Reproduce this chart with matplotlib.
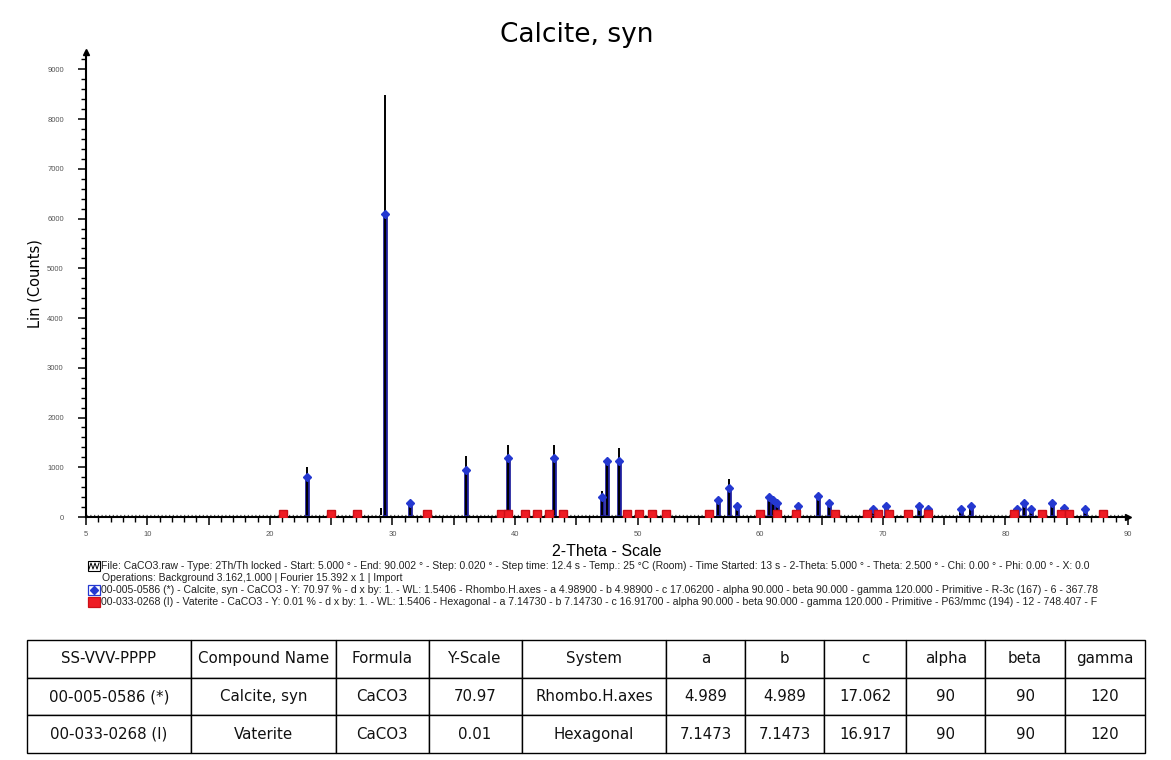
import matplotlib
matplotlib.use("Agg")
import matplotlib.pyplot as plt
from matplotlib import font_manager
from matplotlib.patches import Rectangle
from matplotlib.lines import Line2D
from matplotlib.ticker import MultipleLocator, FuncFormatter

# measured scan: peak positions (2theta) and heights (counts)
scan_range = [5.0, 90.0]
background = 40
meas_2th = [23.06, 29.10, 29.40, 31.44, 35.97, 39.42, 43.16, 47.12, 47.50, 48.50,
            56.58, 57.42, 58.10, 60.70, 61.02, 61.40, 63.06, 64.68, 65.60, 69.20,
            70.24, 72.94, 73.70, 76.32, 77.14, 80.95, 81.55, 82.12, 83.80, 84.80, 86.50]
meas_cts = [1010, 180, 8480, 280, 1230, 1440, 1440, 520, 1150, 1390,
            320, 760, 200, 400, 330, 280, 210, 430, 240, 140,
            200, 200, 150, 150, 190, 130, 260, 150, 250, 170, 130]

# calcite reference sticks
calcite_2th = [23.06, 29.41, 31.44, 35.97, 39.42, 43.16, 47.12, 47.50, 48.51,
               56.58, 57.42, 58.10, 60.70, 61.04, 61.40, 63.06, 64.68, 65.62,
               69.20, 70.26, 72.94, 73.72, 76.34, 77.18, 80.96, 81.52, 82.10,
               83.78, 84.80, 86.48]
calcite_cts = [805, 6100, 290, 945, 1190, 1190, 410, 1130, 1130,
               336, 590, 221, 402, 342, 288, 221, 416, 288,
               168, 221, 228, 168, 168, 221, 154, 288, 168,
               288, 175, 168]

# vaterite reference (Y 0.01 %, sits on the baseline)
vaterite_2th = [21.04, 24.96, 27.08, 32.80, 38.85, 39.40, 40.80, 41.75, 42.75, 43.90,
                49.10, 50.10, 51.15, 52.28, 55.84, 59.97, 61.33, 62.88, 66.10,
                68.73, 69.57, 70.50, 72.02, 73.70, 80.72, 82.98, 84.50, 85.20, 88.00]
vaterite_level = 70

x_labels = [5, 10, 20, 30, 40, 50, 60, 70, 80, 90]

legend_rows = [
    "File: CaCO3.raw - Type: 2Th/Th locked - Start: 5.000 \u00b0 - End: 90.002 \u00b0 - Step: 0.020 \u00b0 - Step time: 12.4 s - Temp.: 25 \u00b0C (Room) - Time Started: 13 s - 2-Theta: 5.000 \u00b0 - Theta: 2.500 \u00b0 - Chi: 0.00 \u00b0 - Phi: 0.00 \u00b0 - X: 0.0",
    "Operations: Background 3.162,1.000 | Fourier 15.392 x 1 | Import",
    "00-005-0586 (*) - Calcite, syn - CaCO3 - Y: 70.97 % - d x by: 1. - WL: 1.5406 - Rhombo.H.axes - a 4.98900 - b 4.98900 - c 17.06200 - alpha 90.000 - beta 90.000 - gamma 120.000 - Primitive - R-3c (167) - 6 - 367.78",
    "00-033-0268 (I) - Vaterite - CaCO3 - Y: 0.01 % - d x by: 1. - WL: 1.5406 - Hexagonal - a 7.14730 - b 7.14730 - c 16.91700 - alpha 90.000 - beta 90.000 - gamma 120.000 - Primitive - P63/mmc (194) - 12 - 748.407 - F",
]

table_header = ["SS-VVV-PPPP", "Compound Name", "Formula", "Y-Scale", "System",
                "a", "b", "c", "alpha", "beta", "gamma"]
table_rows = [
    ["00-005-0586 (*)", "Calcite, syn", "CaCO3", "70.97", "Rhombo.H.axes",
     "4.989", "4.989", "17.062", "90", "90", "120"],
    ["00-033-0268 (I)", "Vaterite", "CaCO3", "0.01", "Hexagonal",
     "7.1473", "7.1473", "16.917", "90", "90", "120"],
]
col_px = [164, 145, 93, 93, 145, 79, 79, 82, 79, 80, 80]

names = {f.name for f in font_manager.fontManager.ttflist}
narrow = "Liberation Sans Narrow" if "Liberation Sans Narrow" in names else "DejaVu Sans"
table_fs = 12.5 if narrow != "DejaVu Sans" else 10.8
plt.rcParams['font.family'] = ['Liberation Sans', 'DejaVu Sans']

W, H = 1171, 760
fig = plt.figure(figsize=(W / 100, H / 100), dpi=100)

def fx(px):
    return px / W

def fy(py):
    return 1 - py / H

ax = fig.add_axes([fx(86), fy(517), fx(1128) - fx(86), fy(52) - fy(517)])
ax.set_xlim(*scan_range)
ax.set_ylim(0, 9350)

# background of the scan
ax.plot(scan_range, [background, background], color='#555555', lw=0.9,
        linestyle=(0, (1, 2)), zorder=1)

# calcite sticks
ax.vlines(calcite_2th, 0, calcite_cts, color='#1c1c9a', lw=3.4, zorder=2)
ax.plot(calcite_2th, calcite_cts, linestyle='none', marker='D', markersize=4,
        color='#2438d0', zorder=4)

# measured peaks
ax.vlines(meas_2th, background, meas_cts, color='black', lw=1.4, zorder=3)

# vaterite markers
ax.plot(vaterite_2th, [vaterite_level] * len(vaterite_2th), linestyle='none',
        marker='s', markersize=5.5, color='#ee1c24', markeredgecolor='#cc1018', zorder=5)

for s in ['top', 'right']:
    ax.spines[s].set_visible(False)
for s in ['left', 'bottom']:
    ax.spines[s].set_linewidth(1.5)

ax.xaxis.set_major_locator(MultipleLocator(5))
ax.xaxis.set_minor_locator(MultipleLocator(1))
ax.xaxis.set_major_formatter(FuncFormatter(
    lambda v, p: "%d" % v if round(v) in x_labels else ""))
ax.yaxis.set_major_locator(MultipleLocator(1000))
ax.yaxis.set_minor_locator(MultipleLocator(200))
ax.yaxis.set_major_formatter(FuncFormatter(lambda v, p: "%d" % v))
ax.tick_params(axis='both', which='major', length=6, width=1.1, labelsize=5.5,
               labelcolor='#555555', direction='out')
ax.tick_params(axis='both', which='minor', length=3.5, width=1.0, direction='out')
ax.tick_params(axis='y', pad=10)
ax.tick_params(axis='x', pad=4)

# axis arrows
ax.plot([0], [1], marker='^', markersize=5, color='black', transform=ax.transAxes, clip_on=False)
ax.plot([1], [0], marker='>', markersize=5, color='black', transform=ax.transAxes, clip_on=False)

fig.text(fx(607), fy(551), "2-Theta - Scale", ha='center', va='center', fontsize=11.5)
fig.text(fx(35), fy(284), "Lin (Counts)", rotation=90, ha='center', va='center',
         fontsize=10.5, family=narrow)
fig.text(fx(577), fy(35), "Calcite, syn", ha='center', va='center', fontsize=19,
         family='DejaVu Sans')

# legend rows
row_y = [566, 578, 590, 602]
row_x = [101, 102, 101, 101]
row_right = [1108, None, 1108, 1106]
texts = []
for s, x, y in zip(legend_rows, row_x, row_y):
    texts.append(fig.text(fx(x), fy(y), s, fontsize=6, va='center', ha='left', color='#222222'))
fig.canvas.draw()
r = fig.canvas.get_renderer()
for t, right, x in zip(texts, row_right, row_x):
    if right is not None:
        w = t.get_window_extent(r).width
        t.set_fontsize(6 * (right - x) / w)
texts[1].set_fontsize(texts[0].get_fontsize())

# legend icons
fig.add_artist(Rectangle((fx(88), fy(571)), fx(12), fy(561) - fy(571), facecolor='white',
                         edgecolor='black', lw=0.8))
fig.add_artist(Line2D([fx(89), fx(91), fx(93), fx(95), fx(97), fx(99)],
                      [fy(569), fy(563), fy(569), fy(563), fy(569), fy(563)], color='black', lw=0.7))
fig.add_artist(Rectangle((fx(88), fy(595)), fx(12), fy(585) - fy(595), facecolor='white',
                         edgecolor='#2438d0', lw=0.9))
fig.add_artist(Line2D([fx(94)], [fy(590)], marker='D', markersize=4, color='#2438d0'))
fig.add_artist(Rectangle((fx(88), fy(607)), fx(12), fy(597) - fy(607), facecolor='#ee1c24',
                         edgecolor='#cc1018', lw=0.9))

# table
axt = fig.add_axes([fx(27), fy(753), fx(1145) - fx(27), fy(640) - fy(753)])
axt.axis('off')
tot = float(sum(col_px))
tbl = axt.table(cellText=table_rows, colLabels=table_header, cellLoc='center',
                bbox=[0, 0, 1, 1], colWidths=[c / tot for c in col_px])
tbl.auto_set_font_size(False)
for (i, j), cell in tbl.get_celld().items():
    cell.set_linewidth(1.0)
    cell.set_edgecolor('black')
    cell.get_text().set_fontsize(table_fs)
    cell.get_text().set_fontfamily(narrow)
    cell.get_text().set_color('#111111')

fig.savefig("out.png", dpi=100)
